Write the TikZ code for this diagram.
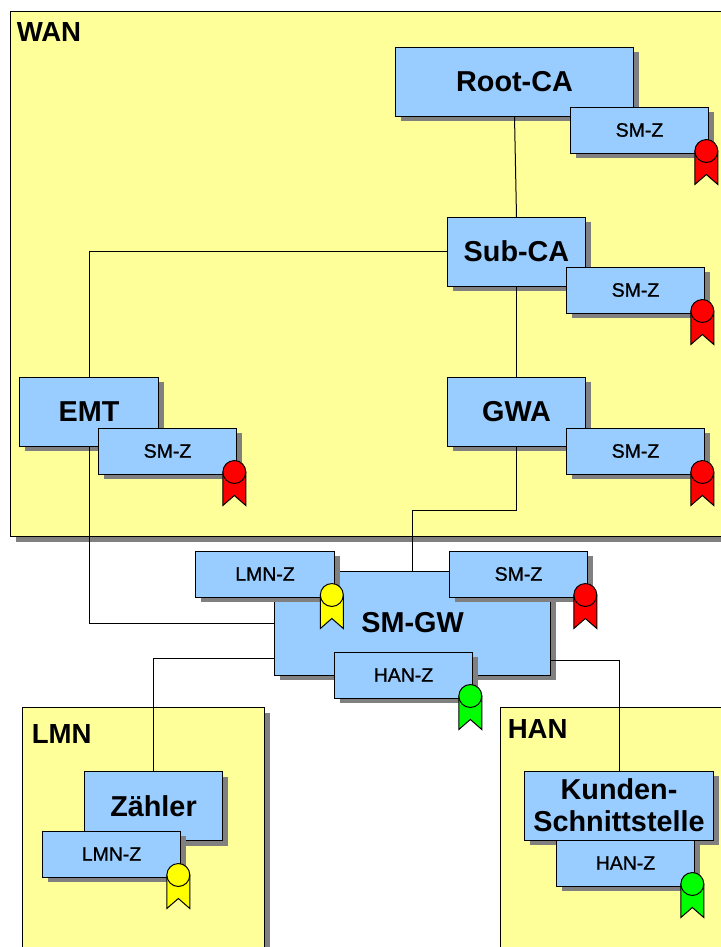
\documentclass[tikz,border=0pt]{standalone}
\usepackage{fontspec}
\setmainfont{Liberation Sans}
\newfontfamily\certfont[FakeBold=0.9]{Liberation Sans}
\usetikzlibrary{shadows}

\definecolor{zonefill}{HTML}{FFFF99}
\definecolor{boxfill}{HTML}{99CCFF}
\definecolor{shadowgray}{HTML}{808080}
\definecolor{ribbonred}{HTML}{FF0000}
\definecolor{ribbonyellow}{HTML}{FFFF00}
\definecolor{ribbongreen}{HTML}{00FF00}

\tikzset{
	flatshadow/.style={drop shadow={shadow xshift=4pt,shadow yshift=-4pt,fill=shadowgray,opacity=1}},
	zone/.style={draw,fill=zonefill,line width=0.75pt,flatshadow,inner sep=0pt,outer sep=0pt},
	zonelabel/.style={anchor=base west,inner sep=0pt,font=\bfseries\fontsize{20.7}{25}\selectfont},
	party/.style={draw,fill=boxfill,line width=0.75pt,flatshadow,inner sep=0pt,outer sep=0pt,
		minimum width=104pt,minimum height=51.75pt,align=center,
		font=\bfseries\fontsize{21.6}{24}\selectfont},
	cert/.style={draw,fill=boxfill,line width=0.75pt,flatshadow,inner sep=0pt,outer sep=0pt,
		minimum width=104pt,minimum height=34.5pt,
		font=\certfont\fontsize{14.6}{17}\selectfont},
	link/.style={line width=0.75pt},
	pics/ribbon/.style={code={
		\draw[fill=#1,line width=0.75pt,line join=miter]
			(-11.5,0) -- (-11.5,33.5) -- (0,23.5) -- (11.5,33.5) -- (11.5,0) -- cycle;
		\draw[fill=#1,line width=0.75pt] (0,0) circle (8.6pt);
	}}
}

\begin{document}
\begin{tikzpicture}[x=0.75pt,y=-0.75pt]
	
	\clip (0,0) rectangle (721,947);
	
	%--- zones first ---
	\node[zone,minimum width=600pt,minimum height=393.75pt,anchor=north west] (wan) at (10.5,11.5) {};
	\node[zone,minimum width=181.5pt,minimum height=300pt,anchor=north west] (lmn) at (22.5,707.5) {};
	\node[zone,minimum width=300pt,minimum height=300pt,anchor=north west] (han) at (500.5,707.5) {};
	\node[zonelabel] (wanlabel) at (16.5,41) {WAN};
	\node[zonelabel] (lmnlabel) at (31.5,743) {LMN};
	\node[zonelabel] (hanlabel) at (507.5,738) {HAN};
	
	% boxes of the parties
	\node[party,minimum width=179pt] (rootca) at (514.5,81.5) {Root-CA};
	\node[party] (subca) at (516.5,251.5) {Sub-CA};
	\node[party] (emt) at (89,411.5) {EMT};
	\node[party] (gwa) at (516.5,411.5) {GWA};
	\node[party,minimum width=207.5pt,minimum height=78pt] (smgw) at (412.5,623) {SM-GW};
	\node[party] (zaehler) at (153.5,806) {Zähler};
	\node[party,minimum width=142.25pt] (kunden) at (619,805.5) {Kunden-\\Schnittstelle};
	
	% extra connection points on the gateway
	\coordinate (gwlmn) at (274,658);
	\coordinate (gwhan) at (551,660);
	
	%--- connectors ---
	\draw[link] (rootca.south) -- (subca.north);
	\draw[link] (subca.south) -- (gwa.north);
	\draw[link] (subca.west) -| (emt.north);
	\draw[link] (emt.south) |- (smgw.west);
	\draw[link] (gwa.south) -- (gwa.south |- 0,510) -| (smgw.north);
	\draw[link] (gwlmn) -| (zaehler.north);
	\draw[link] (gwhan) -| (kunden.north);
	
	% certificates with their ribbons
	\foreach \nm/\x/\y/\lab/\col in {
		certroot/639.5/130/SM-Z/ribbonred,
		certsub/635.5/290/SM-Z/ribbonred,
		certemt/167.5/451/SM-Z/ribbonred,
		certgwa/635.5/451/SM-Z/ribbonred,
		certgwlmn/265/574/LMN-Z/ribbonyellow,
		certgwsm/518.5/574/SM-Z/ribbonred,
		certgwhan/403.5/675/HAN-Z/ribbongreen,
		certzaehler/111.5/854/LMN-Z/ribbonyellow,
		certkunden/625.5/863/HAN-Z/ribbongreen}{
		\node[cert] (\nm) at (\x,\y) {\lab};
		\path (\nm.south east) ++(-2.5,-2) pic {ribbon=\col};
	}
	
\end{tikzpicture}
\end{document}
